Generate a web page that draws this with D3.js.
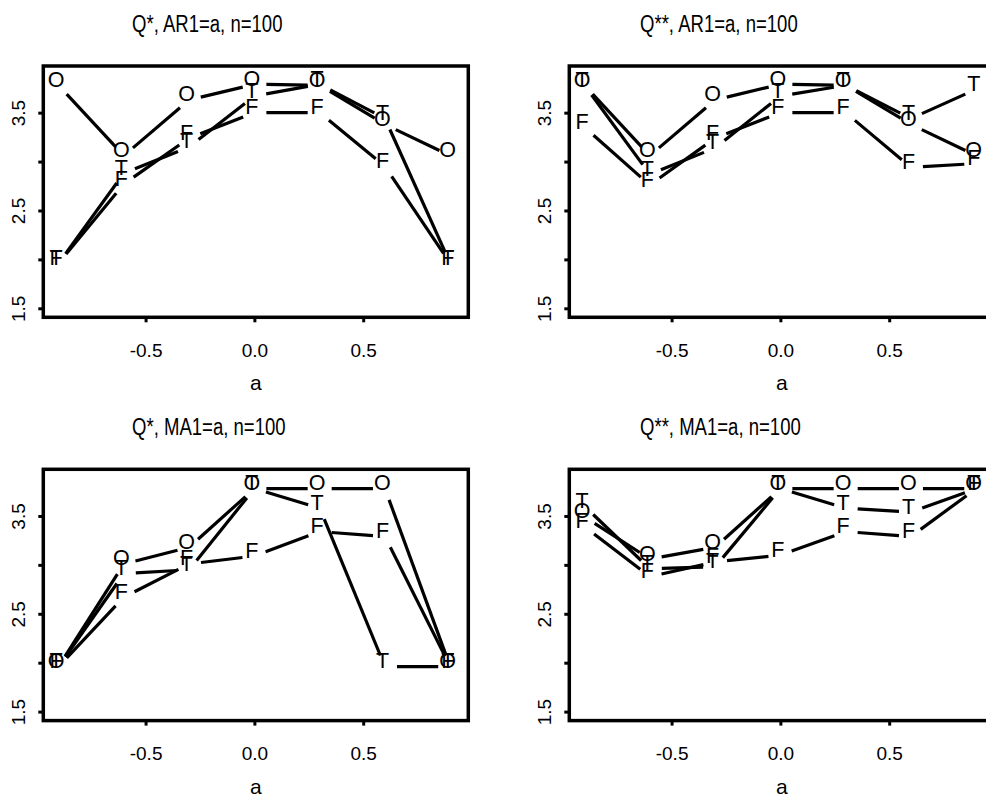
<!DOCTYPE html>
<html>
<head>
<meta charset="utf-8">
<script src="https://cdn.jsdelivr.net/npm/d3@7"></script>
<style>
  html, body { margin: 0; padding: 0; background: #fff; }
  svg { display: block; }
  text { font-family: "Liberation Sans", Arial, Helvetica, sans-serif; fill: #000; }
</style>
</head>
<body>
<svg id="chart" width="986" height="798"></svg>
<script>
// AR/MA coefficient grid shared by every panel
const aValues = [-0.9, -0.6, -0.3, 0.0, 0.3, 0.6, 0.9];

// Series plotting symbols
const seriesLetters = ["O", "T", "F"];

// Q*, AR1=a
const arQ1_O = [3.78, 3.06, 3.63, 3.79, 3.78, 3.38, 3.06];
const arQ1_T = [1.96, 2.88, 3.15, 3.67, 3.79, 3.44, 1.96];
const arQ1_F = [1.96, 2.77, 3.24, 3.50, 3.50, 2.95, 1.96];

// Q**, AR1=a
const arQ2_O = [3.78, 3.06, 3.63, 3.79, 3.78, 3.38, 3.06];
const arQ2_T = [3.78, 2.87, 3.14, 3.67, 3.78, 3.44, 3.74];
const arQ2_F = [3.35, 2.76, 3.24, 3.50, 3.50, 2.94, 2.98];

// Q*, MA1=a
const maQ1_O = [1.96, 3.01, 3.18, 3.78, 3.78, 3.78, 1.96];
const maQ1_T = [1.96, 2.91, 2.95, 3.78, 3.58, 1.96, 1.96];
const maQ1_F = [1.96, 2.67, 3.01, 3.09, 3.34, 3.29, 1.96];

// Q**, MA1=a
const maQ2_O = [3.49, 3.06, 3.18, 3.78, 3.78, 3.78, 3.78];
const maQ2_T = [3.60, 2.96, 2.98, 3.78, 3.58, 3.54, 3.78];
const maQ2_F = [3.39, 2.88, 3.03, 3.10, 3.34, 3.29, 3.78];

const panelTitles = ["Q*, AR1=a, n=100", "Q**, AR1=a, n=100", "Q*, MA1=a, n=100", "Q**, MA1=a, n=100"];
const xTickValues = [-0.5, 0.0, 0.5];
const xTickLabels = ["-0.5", "0.0", "0.5"];
const yTickValues = [1.5, 2.0, 2.5, 3.0, 3.5];
const yTickLabels = ["1.5", "", "2.5", "", "3.5"];
const xAxisTitle = "a";

const panelSeries = [
  [arQ1_O, arQ1_T, arQ1_F],
  [arQ2_O, arQ2_T, arQ2_F],
  [maQ1_O, maQ1_T, maQ1_F],
  [maQ2_O, maQ2_T, maQ2_F]
];

// Layout of the 2x2 grid
const plotW = 425, plotH = 251.3;
const lefts = [43.3, 569.3];
const tops = [66, 469.3];
const titleStart = [88.7, 70.7];
const gap = 12;          // blank space left around each symbol by the connecting lines

const svg = d3.select("#chart");

panelSeries.forEach((series, idx) => {
  const col = idx % 2, row = Math.floor(idx / 2);
  const left = lefts[col], top = tops[row];

  const x = d3.scaleLinear().domain([-0.97, 0.983]).range([left, left + plotW]);
  const y = d3.scaleLinear().domain([1.408, 3.977]).range([top + plotH, top]);

  const g = svg.append("g");

  // connecting lines, broken around each symbol
  series.forEach(vals => {
    const pts = vals.map((v, i) => [x(aValues[i]), y(v)]);
    for (let i = 0; i < pts.length - 1; i++) {
      const [x0, y0] = pts[i], [x1, y1] = pts[i + 1];
      const dx = x1 - x0, dy = y1 - y0, L = Math.hypot(dx, dy);
      if (L <= 2 * gap) continue;
      const ux = dx / L, uy = dy / L;
      g.append("line")
        .attr("x1", x0 + ux * gap).attr("y1", y0 + uy * gap)
        .attr("x2", x1 - ux * gap).attr("y2", y1 - uy * gap)
        .attr("stroke", "#000").attr("stroke-width", 3.2)
        .attr("stroke-linecap", "butt");
    }
  });

  // plotting symbols
  series.forEach((vals, s) => {
    g.selectAll(null).data(vals).enter().append("text")
      .attr("x", (v, i) => x(aValues[i]) - 2.5)
      .attr("y", v => y(v) + 1.5)
      .attr("text-anchor", "middle")
      .style("font-size", "21.5px")
      .text(seriesLetters[s]);
  });

  // frame
  g.append("rect")
    .attr("x", left).attr("y", top).attr("width", plotW).attr("height", plotH)
    .attr("fill", "none").attr("stroke", "#000").attr("stroke-width", 3.5);

  // x axis
  const xAxis = d3.axisBottom(x).tickValues(xTickValues)
    .tickFormat((d, i) => xTickLabels[i]).tickSize(5).tickPadding(21);
  const xg = g.append("g").attr("transform", `translate(0,${top + plotH})`).call(xAxis);
  xg.select(".domain").remove();
  xg.selectAll(".tick line").attr("stroke", "#000").attr("stroke-width", 3);
  xg.selectAll(".tick text").style("font-size", "19px");

  // y axis
  const yAxis = d3.axisLeft(y).tickValues(yTickValues)
    .tickFormat((d, i) => yTickLabels[i]).tickSize(5);
  const yg = g.append("g").attr("transform", `translate(${left},0)`).call(yAxis);
  yg.select(".domain").remove();
  yg.selectAll(".tick line").attr("stroke", "#000").attr("stroke-width", 3);
  yg.selectAll(".tick text")
    .attr("x", null).attr("dy", null)
    .attr("text-anchor", "middle")
    .attr("transform", "translate(-18,0) rotate(-90)")
    .style("font-size", "19px");

  // axis title
  g.append("text")
    .attr("x", left + plotW / 2).attr("y", top + plotH + 73)
    .attr("text-anchor", "middle").style("font-size", "21px")
    .text(xAxisTitle);

  // panel title
  g.append("text")
    .attr("transform", `translate(${left + titleStart[col]},${top - 34.3}) scale(0.757,1)`)
    .style("font-size", "24.5px")
    .text(panelTitles[idx]);
});
</script>
</body>
</html>
